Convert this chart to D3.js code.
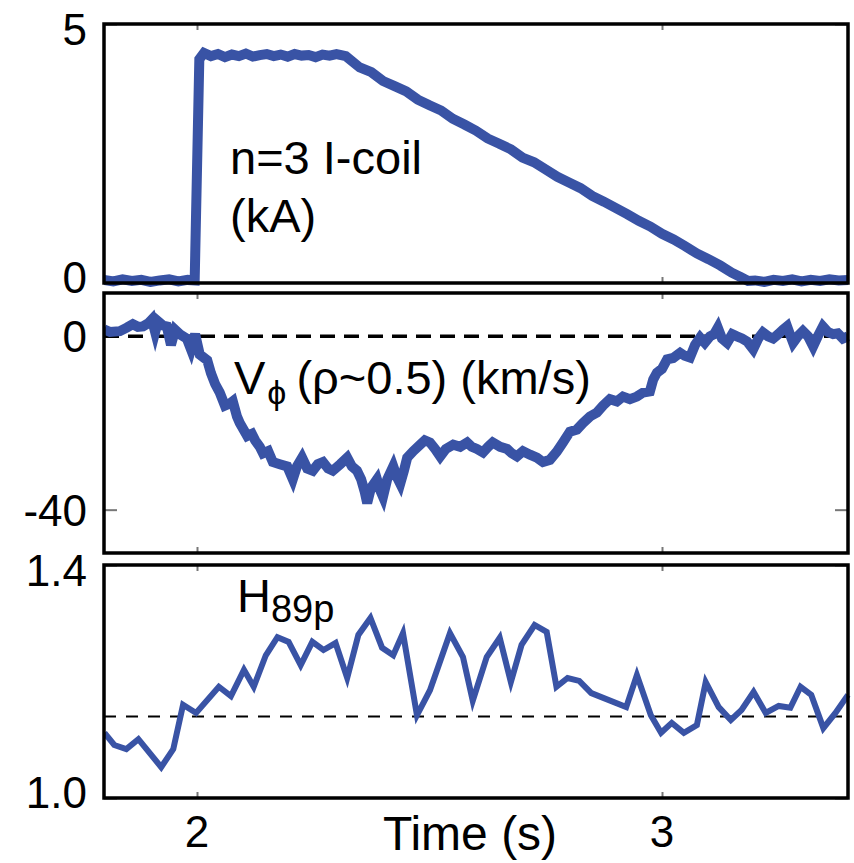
<!DOCTYPE html>
<html>
<head>
<meta charset="utf-8">
<script src="https://cdn.jsdelivr.net/npm/d3@7"></script>
<style>
  body { margin: 0; background: #fff; }
  svg text { font-family: "Liberation Sans", Arial, Helvetica, sans-serif; fill: #000; }
</style>
</head>
<body>
<script>
// n=3 I-coil current (kA)
const coilTime = [1.80, 1.82, 1.84, 1.86, 1.88, 1.90, 1.92, 1.94, 1.96, 1.98, 1.995, 2.005, 2.015, 2.03, 2.045, 2.06, 2.075, 2.09, 2.105,
  2.12, 2.135, 2.15, 2.165, 2.18, 2.195, 2.21, 2.225, 2.24, 2.255, 2.27, 2.285, 2.30, 2.32,
  2.35, 2.375, 2.40, 2.425, 2.45, 2.475, 2.50, 2.525, 2.55, 2.575, 2.60, 2.625, 2.65, 2.675, 2.70, 2.725, 2.75, 2.775, 2.80, 2.825,
  2.85, 2.875, 2.90, 2.925, 2.95, 2.975, 3.00, 3.025, 3.05, 3.075, 3.10, 3.125, 3.15, 3.17, 3.185,
  3.20, 3.22, 3.24, 3.26, 3.28, 3.30, 3.32, 3.34, 3.36, 3.38, 3.40];
const coilKA = [0.06, 0.03, 0.07, 0.04, 0.06, 0.02, 0.05, 0.07, 0.03, 0.06, 0.05, 4.32, 4.44, 4.38, 4.42, 4.36, 4.41, 4.38, 4.43,
  4.37, 4.40, 4.42, 4.38, 4.41, 4.37, 4.42, 4.39, 4.40, 4.36, 4.41, 4.39, 4.42, 4.38,
  4.16, 4.07, 3.90, 3.80, 3.70, 3.54, 3.43, 3.33, 3.17, 3.06, 2.94, 2.79, 2.69, 2.58, 2.42, 2.33, 2.19, 2.05, 1.94, 1.83,
  1.68, 1.57, 1.45, 1.33, 1.20, 1.09, 0.95, 0.84, 0.71, 0.57, 0.46, 0.34, 0.20, 0.11, 0.04,
  0.05, 0.02, 0.06, 0.04, 0.07, 0.03, 0.06, 0.04, 0.07, 0.05, 0.06];

// toroidal rotation V_phi at rho~0.5 (km/s)
const vTime = [1.800, 1.813, 1.834, 1.849, 1.862, 1.873, 1.884, 1.895, 1.903, 1.910, 1.916, 1.927, 1.935, 1.944, 1.953, 1.963, 1.978, 1.987, 1.996,
  2.006, 2.022, 2.030, 2.039, 2.049, 2.060, 2.071, 2.077, 2.086, 2.092, 2.108, 2.118, 2.125, 2.135, 2.142, 2.153, 2.163, 2.178, 2.194, 2.200,
  2.206, 2.215, 2.226, 2.237, 2.249, 2.260, 2.271, 2.282, 2.292, 2.308, 2.323, 2.333, 2.344, 2.353, 2.361, 2.366, 2.374, 2.387, 2.394, 2.400,
  2.409, 2.422, 2.430, 2.437, 2.445, 2.452, 2.465, 2.480, 2.490, 2.501, 2.512, 2.523, 2.535, 2.551, 2.566, 2.581, 2.591, 2.602, 2.615, 2.626,
  2.636, 2.652, 2.667, 2.677, 2.688, 2.701, 2.716, 2.731, 2.744, 2.759, 2.774, 2.787, 2.802, 2.817, 2.830, 2.845, 2.860, 2.873, 2.888, 2.903,
  2.916, 2.931, 2.946, 2.959, 2.974, 2.981, 2.989, 3.000, 3.011, 3.024, 3.039, 3.049, 3.060, 3.071, 3.082, 3.092, 3.103, 3.112, 3.120, 3.129,
  3.140, 3.151, 3.161, 3.172, 3.183, 3.196, 3.207, 3.217, 3.228, 3.239, 3.250, 3.260, 3.269, 3.275, 3.282, 3.292, 3.303, 3.314, 3.325, 3.335,
  3.346, 3.357, 3.368, 3.378, 3.389, 3.400];
const vPhi = [1.6, 1.0, 1.2, 2.0, 2.8, 2.2, 2.3, 3.0, 3.9, 1.0, 3.5, 2.5, 2.3, -2.0, 1.5, 0.5, -0.5, -3.0, 0.5,
  -4.2, -5.5, -8.5, -11, -13, -16, -15.5, -15, -18.5, -20, -23, -22.5, -24, -25.5, -27, -26.5, -29, -29.5, -30, -31.5,
  -33, -30, -28, -30.5, -31, -29.5, -29, -30.5, -31, -29.5, -28, -30, -31, -33, -36, -38.5, -35, -33, -35.5, -37,
  -33, -30, -32.5, -34, -31, -28, -26.5, -25, -24, -24.5, -26, -27.7, -26, -25, -25.5, -24.5, -25.5, -26, -26.8, -25.5,
  -24.5, -25.5, -26, -27, -27.7, -26.5, -27.3, -28, -29, -28.5, -26.6, -24.5, -22, -21.5, -20, -18.5, -17.6, -16, -14.5, -15,
  -13.9, -14.5, -13.9, -13, -12.7, -10, -8.4, -7.5, -5.3, -5, -3.8, -4.5, -4.9, -2, -0.3, -1.5, 0, 0.5, 2, -0.5,
  -1.5, 0.5, 0, -0.5, -1.2, -3, -0.5, 0.9, 0, -0.5, 0.5, 1.5, 2.3, 0.5, -1.5, 0, 1.2, 0, -2.3, 0,
  2.3, 1.0, 0.5, 0.7, -0.5, 0];

// confinement factor H89p
const hTime = [1.801, 1.822, 1.848, 1.874, 1.923, 1.949, 1.970, 1.998, 2.047, 2.073, 2.101, 2.122, 2.148, 2.173, 2.197, 2.223, 2.248, 2.272,
  2.298, 2.323, 2.347, 2.373, 2.398, 2.422, 2.443, 2.473, 2.501, 2.544, 2.572, 2.593, 2.623, 2.651, 2.675, 2.698, 2.726, 2.752, 2.773,
  2.797, 2.822, 2.848, 2.923, 2.946, 2.976, 2.998, 3.021, 3.047, 3.075, 3.094, 3.122, 3.148, 3.171, 3.197, 3.223, 3.251, 3.276, 3.298,
  3.321, 3.347, 3.373, 3.400];
const h89p = [1.112, 1.091, 1.084, 1.101, 1.053, 1.084, 1.160, 1.146, 1.191, 1.175, 1.220, 1.191, 1.245, 1.276, 1.268, 1.228, 1.268, 1.254,
  1.266, 1.206, 1.280, 1.309, 1.258, 1.245, 1.283, 1.142, 1.185, 1.283, 1.242, 1.167, 1.242, 1.275, 1.199, 1.263, 1.297, 1.285, 1.191,
  1.206, 1.201, 1.180, 1.156, 1.211, 1.142, 1.112, 1.129, 1.112, 1.125, 1.199, 1.156, 1.134, 1.151, 1.182, 1.146, 1.158, 1.155, 1.191,
  1.177, 1.120, 1.146, 1.177];

const xTicks = [2, 3];
const blue = "#3953a5";

const width = 854, height = 863;
const left = 104, right = 848;

const svg = d3.select("body").append("svg")
  .attr("width", width)
  .attr("height", height);

const x = d3.scaleLinear().domain([1.8, 3.4]).range([left, right]);

// plain hyphen for negatives, like the original
const intFmt = d => String(d);

const panels = [
  { top: 24, bottom: 283, domain: [0, 5], ticks: [0, 5], fmt: intFmt,
    time: coilTime, vals: coilKA, sw: 10, ref: null },
  { top: 293, bottom: 553, domain: [-50, 10], ticks: [-40, 0], fmt: intFmt,
    time: vTime, vals: vPhi, sw: 10, ref: 0, refW: 3.5, refDash: "15,9" },
  { top: 565, bottom: 798, domain: [1.0, 1.4], ticks: [1.0, 1.4], fmt: d3.format(".1f"),
    time: hTime, vals: h89p, sw: 6, ref: 1.14, refW: 2, refDash: "12,10" }
];

panels.forEach(p => {
  const y = d3.scaleLinear().domain(p.domain).range([p.bottom, p.top]);
  const g = svg.append("g");

  g.append("clipPath").attr("id", "clip" + p.top)
    .append("rect")
    .attr("x", left).attr("y", p.top - 6)
    .attr("width", right - left + 6).attr("height", p.bottom - p.top + 10);

  // inner tick marks
  g.append("g").attr("transform", `translate(0,${p.top})`)
    .call(d3.axisTop(x).tickValues(xTicks).tickSize(-6).tickFormat(""));
  g.append("g").attr("transform", `translate(0,${p.bottom})`)
    .call(d3.axisBottom(x).tickValues(xTicks).tickSize(-6).tickFormat(""));
  g.append("g").attr("transform", `translate(${left},0)`)
    .call(d3.axisLeft(y).tickValues(p.ticks).tickSize(-13).tickFormat(""));
  g.append("g").attr("transform", `translate(${right},0)`)
    .call(d3.axisRight(y).tickValues(p.ticks).tickSize(-13).tickFormat(""));
  g.selectAll(".domain").remove();
  g.selectAll(".tick line").attr("stroke", "#777").attr("stroke-width", 2);

  if (p.ref !== null) {
    g.append("line")
      .attr("x1", left).attr("x2", right)
      .attr("y1", y(p.ref)).attr("y2", y(p.ref))
      .attr("stroke", "#000")
      .attr("stroke-width", p.refW)
      .attr("stroke-dasharray", p.refDash);
  }

  const line = d3.line()
    .x((d, i) => x(p.time[i]))
    .y(d => y(d));

  g.append("path")
    .datum(p.vals)
    .attr("clip-path", `url(#clip${p.top})`)
    .attr("fill", "none")
    .attr("stroke", blue)
    .attr("stroke-width", p.sw)
    .attr("stroke-linejoin", "miter")
    .attr("d", line);

  g.append("rect")
    .attr("x", left).attr("y", p.top)
    .attr("width", right - left).attr("height", p.bottom - p.top)
    .attr("fill", "none")
    .attr("stroke", "#000")
    .attr("stroke-width", 3.5);

  // y tick labels, edge labels pulled inward a little
  g.selectAll(".ylab")
    .data(p.ticks)
    .enter()
    .append("text")
    .attr("class", "ylab")
    .attr("x", 87)
    .attr("y", d => {
      let v = y(d);
      if (Math.abs(v - p.top) < 2) v += 5;
      if (Math.abs(v - p.bottom) < 2) v -= 6;
      return v;
    })
    .attr("dy", "0.36em")
    .attr("text-anchor", "end")
    .attr("font-size", 44)
    .text(d => p.fmt(d));
});

// x tick labels
svg.selectAll(".xlab")
  .data(xTicks)
  .enter()
  .append("text")
  .attr("x", d => x(d))
  .attr("y", 847)
  .attr("text-anchor", "middle")
  .attr("font-size", 44)
  .text(d => d);

svg.append("text")
  .attr("x", 470).attr("y", 850)
  .attr("text-anchor", "middle")
  .attr("font-size", 48)
  .text("Time (s)");

// panel annotations
svg.append("text").attr("x", 230).attr("y", 174).attr("font-size", 47).text("n=3 I-coil");
svg.append("text").attr("x", 230).attr("y", 232).attr("font-size", 47).text("(kA)");

const vLab = svg.append("text").attr("x", 234).attr("y", 394).attr("font-size", 47);
vLab.append("tspan").text("V");
vLab.append("tspan").attr("font-size", 34).attr("dy", 10).attr("dx", 2).text("ϕ");
vLab.append("tspan").attr("dy", -10).attr("dx", 10).text("(ρ~0.5) (km/s)");

const hLab = svg.append("text").attr("x", 237).attr("y", 612).attr("font-size", 47);
hLab.append("tspan").text("H");
hLab.append("tspan").attr("font-size", 38).attr("dy", 10).text("89p");
</script>
</body>
</html>
